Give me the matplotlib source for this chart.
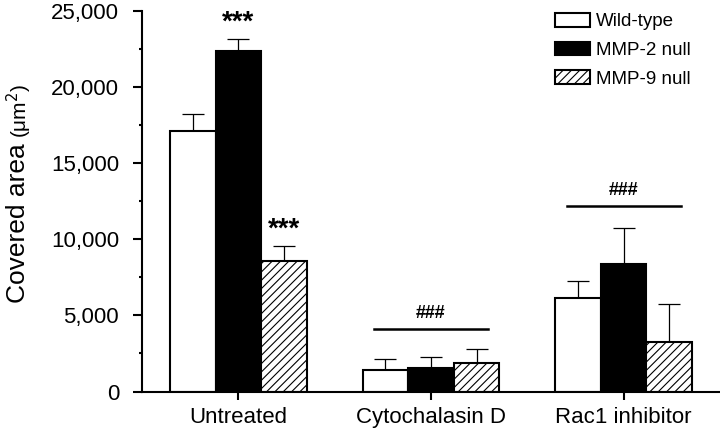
import matplotlib
matplotlib.use("Agg")
import matplotlib.pyplot as plt
import numpy as np

plt.rcParams['font.family'] = ['Liberation Sans', 'DejaVu Sans']
plt.rcParams['hatch.linewidth'] = 0.8

# Données
groups = ["Untreated", "Cytochalasin D", "Rac1 inhibitor"]
series = ["Wild-type", "MMP-2 null", "MMP-9 null"]
wild_type = [17100, 1430, 6160]
mmp2_null = [22400, 1530, 8370]
mmp9_null = [8570, 1890, 3220]
wild_type_err = [1100, 700, 1100]
mmp2_null_err = [750, 720, 2400]
mmp9_null_err = [1000, 870, 2500]
star_labels = ["", "***", "***"]          # only Untreated group
hash_groups = [1, 2]
hash_line_y = [4120, 12200]
yticks = [0, 5000, 10000, 15000, 20000, 25000]
ytick_labels = ["0", "5,000", "10,000", "15,000", "20,000", "25,000"]

fig = plt.figure(figsize=(7.2, 4.32), dpi=100)
ax = fig.add_axes([142 / 720, 1 - 391.5 / 432, 1 - 142 / 720, (391.5 - 11) / 432])

x = np.arange(len(groups))
w = 0.237
styles = [dict(facecolor="white", hatch=None),
          dict(facecolor="black", hatch=None),
          dict(facecolor="white", hatch="////")]
values = [wild_type, mmp2_null, mmp9_null]
errs = [wild_type_err, mmp2_null_err, mmp9_null_err]

for i, (vals, err, st, name) in enumerate(zip(values, errs, styles, series)):
    pos = x + (i - 1) * w
    ax.errorbar(pos, vals, yerr=[np.zeros(len(err)), err], fmt="none",
                ecolor="black", elinewidth=0.9, capsize=8, capthick=0.9, zorder=1)
    ax.bar(pos, vals, width=w, facecolor=st["facecolor"], hatch=st["hatch"],
           edgecolor="black", linewidth=1.5, label=name, zorder=2)

# Significance marks
for i in range(1, 3):
    top = values[i][0] + errs[i][0]
    ax.text(x[0] + (i - 1) * w, top + 200, star_labels[i], ha="center", va="bottom",
            fontsize=20, fontweight="bold")
for g, ly in zip(hash_groups, hash_line_y):
    ax.plot([g - 0.295, g + 0.295], [ly, ly], color="black", lw=1.8)
    ax.text(g, ly + 450, "###", ha="center", va="bottom", fontsize=13, fontweight="bold")

# Axes
ax.set_xlim(-0.5, 2.5)
ax.set_ylim(0, 25000)
ax.set_yticks(yticks)
ax.set_yticklabels(ytick_labels)
ax.set_yticks(np.arange(2500, 25000, 5000), minor=True)
ax.set_xticks(x)
ax.set_xticklabels(groups)
ax.spines["top"].set_visible(False)
ax.spines["right"].set_visible(False)
ax.spines["left"].set_linewidth(1.5)
ax.spines["bottom"].set_linewidth(1.5)
ax.tick_params(axis="y", which="major", length=6.5, width=1.5, pad=10, labelsize=16)
ax.tick_params(axis="y", which="minor", length=2.5, width=1.5)
ax.tick_params(axis="x", length=6, width=1.5, pad=5, labelsize=16)

fig.text(0.025, 1 - 303 / 432, "Covered area", rotation=90, ha="center", va="bottom", fontsize=19)
fig.text(0.027, 1 - 138 / 432, "(μm$^2$)", rotation=90, ha="center", va="bottom", fontsize=15)

ax.legend(loc="upper left", bbox_to_anchor=(555 / 720, 1 - 13 / 432), bbox_transform=fig.transFigure,
          frameon=False, fontsize=13.5, handlelength=1.87, handleheight=0.75, handletextpad=0.3,
          labelspacing=0.6, borderpad=0, borderaxespad=0)

plt.savefig("out.png", dpi=100)
plt.close()
